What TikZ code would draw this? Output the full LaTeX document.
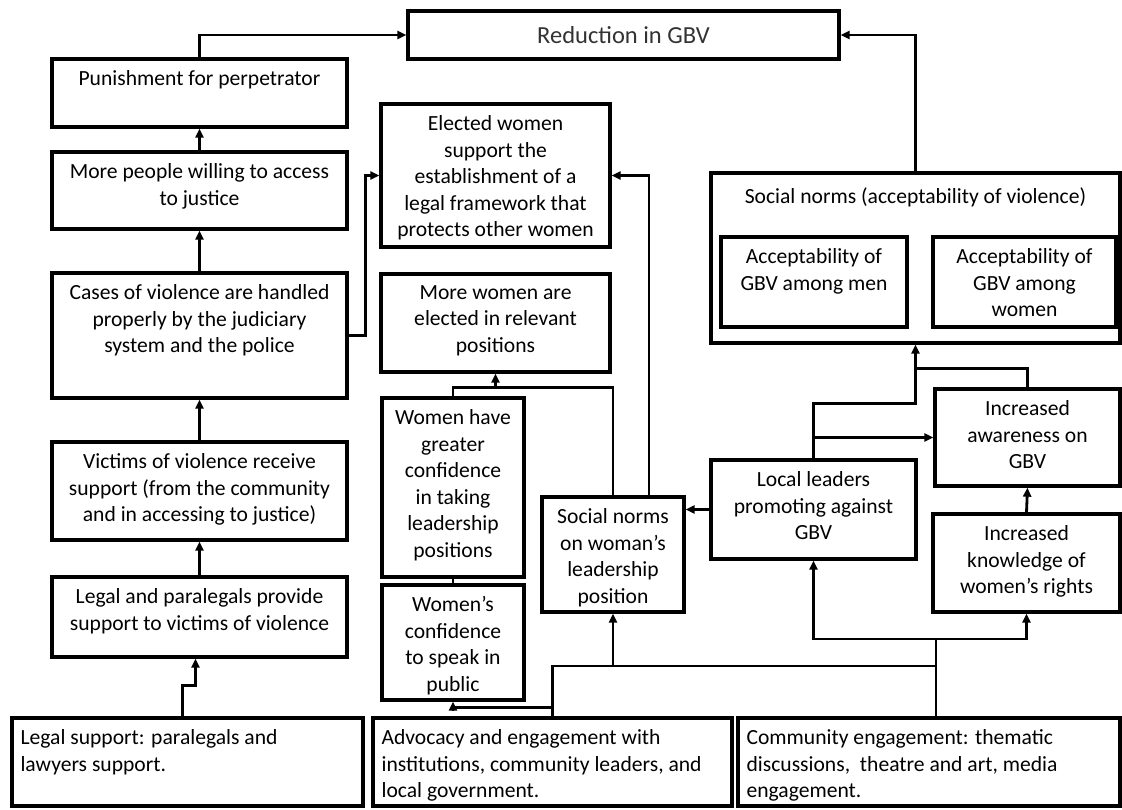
\documentclass[tikz,border=0pt]{standalone}
\usepackage{fontspec}
\setmainfont{Carlito}
\usetikzlibrary{arrows.meta,fit,positioning}

\tikzset{
  box/.style={draw, line width=3.3pt, inner sep=0pt},
  lbl/.style={anchor=north, align=center, inner sep=0pt, yshift=-13pt},
  lbll/.style={lbl, anchor=north west, align=left, xshift=10pt},
  link/.style={line width=2.8pt, line cap=rect},
  arr/.style={link, -{Triangle[length=9pt,width=8pt]}}
}

\begin{document}
\begin{tikzpicture}[x=1pt, y=-1pt, font=\fontsize{21.6}{26.5}\selectfont]
	\useasboundingbox[fill=white] (0,0) rectangle (1122,809);
	
	% goal
	\node[box, fit={(408,11) (839,59)}, label={[anchor=center, inner sep=0pt, text=black!80, font=\fontsize{24.5}{28}\selectfont]center:Reduction in GBV}] (red) {};
	
	% left column (legal path)
	\node[box, fit={(52,59) (347,127)}, label={[lbl]north:Punishment for perpetrator}] (pun) {};
	\node[box, fit={(52,152) (347,229)}, label={[lbl]north:{More people willing to access\\to justice}}] (more) {};
	\node[box, fit={(52,273) (347,398)}, label={[lbl]north:{Cases of violence are handled\\properly by the judiciary\\system and the police}}] (cases) {};
	\node[box, fit={(52,442) (347,540)}, label={[lbl]north:{Victims of violence receive\\support (from the community\\and in accessing to justice)}}] (vict) {};
	\node[box, fit={(52,577) (347,657)}, label={[lbl]north:{Legal and paralegals provide\\support to victims of violence}}] (lpar) {};
	
	% middle column (leadership path)
	\node[box, fit={(381,104) (610,247)}, label={[lbl]north:{Elected women\\support the\\establishment of a\\legal framework that\\protects other women}}] (elec) {};
	\node[box, fit={(381,274) (610,372)}, label={[lbl]north:{More women are\\elected in relevant\\positions}}] (mwom) {};
	\node[box, fit={(382,398) (524,577)}, label={[lbl]north:{Women have\\greater\\confidence\\in taking\\leadership\\positions}}] (wconf) {};
	\node[box, fit={(382,585) (524,700)}, label={[lbl]north:{Women’s\\confidence\\to speak in\\public}}] (wspk) {};
	\node[box, fit={(542,497) (684,612)}, label={[lbl]north:{Social norms\\on woman’s\\leadership\\position}}] (snl) {};
	
	% right side (social norms)
	\node[box, fit={(711,173) (1120,343)}, label={[lbl, yshift=-3pt]north:{Social norms (acceptability of violence)}}] (sn) {};
	\node[box, fit={(721,237) (907,327)}, label={[lbl]north:{Acceptability of\\GBV among men}}] (amen) {};
	\node[box, fit={(933,237) (1116,327)}, label={[lbl]north:{Acceptability of\\GBV among\\women}}] (awom) {};
	\node[box, fit={(935,389) (1120,486)}, label={[lbl]north:{Increased\\awareness on\\GBV}}] (aware) {};
	\node[box, fit={(711,460) (916,559)}, label={[lbl]north:{Local leaders\\promoting against\\GBV}}] (local) {};
	\node[box, fit={(933,514) (1120,612)}, label={[lbl]north:{Increased\\knowledge of\\women’s rights}}] (know) {};
	
	% interventions
	\node[box, fit={(12,718) (363,806)}, label={[lbll]north west:{Legal support: paralegals and\\lawyers support.}}] (lsup) {};
	\node[box, fit={(373,718) (732,806)}, label={[lbll]north west:{Advocacy and engagement with\\institutions, community leaders, and\\local government.}}] (adv) {};
	\node[box, fit={(738,718) (1120,806)}, label={[lbll]north west:{Community engagement: thematic\\discussions,\ \ theatre and art, media\\engagement.}}] (com) {};
	
	% junctions
	\coordinate (mj) at ([yshift=-14pt]mwom.south);
	\coordinate (sj) at ([yshift=-24pt]sn.south);
	\coordinate (lj) at ([yshift=-59pt]sn.south);
	\coordinate (cj) at (936,639);
	\coordinate (aj) at (936,666);
	
	% legal path
	\draw[arr] (pun.north) |- (red.west);
	\draw[arr] (more.north) -- (pun.south);
	\draw[arr] (cases.north) -- (more.south);
	\draw[arr] (vict.north) -- (cases.south);
	\draw[arr] (lpar.north) -- (vict.south);
	\draw[arr] ([xshift=-5pt]lsup.north) -- ++(0,-31) -| ([xshift=-4pt]lpar.south);
	\draw[arr] (cases.east) -- ++(17,0) |- (elec.west);
	
	% leadership path
	\draw[arr] (mj) -- (mwom.south);
	\draw[link] (wconf.north) |- (mj);
	\draw[link] (snl.north) |- (mj);
	\draw[arr] ([xshift=36pt]snl.north) |- (elec.east);
	\draw[link] (wspk.north) -- (wconf.south);
	\draw[link] (adv.north) |- (aj);
	\draw[arr] (snl.south |- aj) -- (snl.south);
	\draw[arr] ([yshift=9pt]adv.north) -| (wspk.south);
	
	% norms path
	\draw[arr] (sn.north) |- (red.east);
	\draw[arr] (local.west) -- (local.west -| snl.east);
	\draw[arr] (local.north) |- (lj) -- (sn.south);
	\draw[link] (aware.north) |- (sj);
	\draw[arr] (aware.west -| local.north) -- (aware.west);
	\draw[arr] (know.north) -- (aware.south);
	\draw[link] ([xshift=7pt]com.north) -- (cj);
	\draw[arr] (cj) -| (local.south);
	\draw[arr] (cj) -| (know.south);
	
\end{tikzpicture}
\end{document}
